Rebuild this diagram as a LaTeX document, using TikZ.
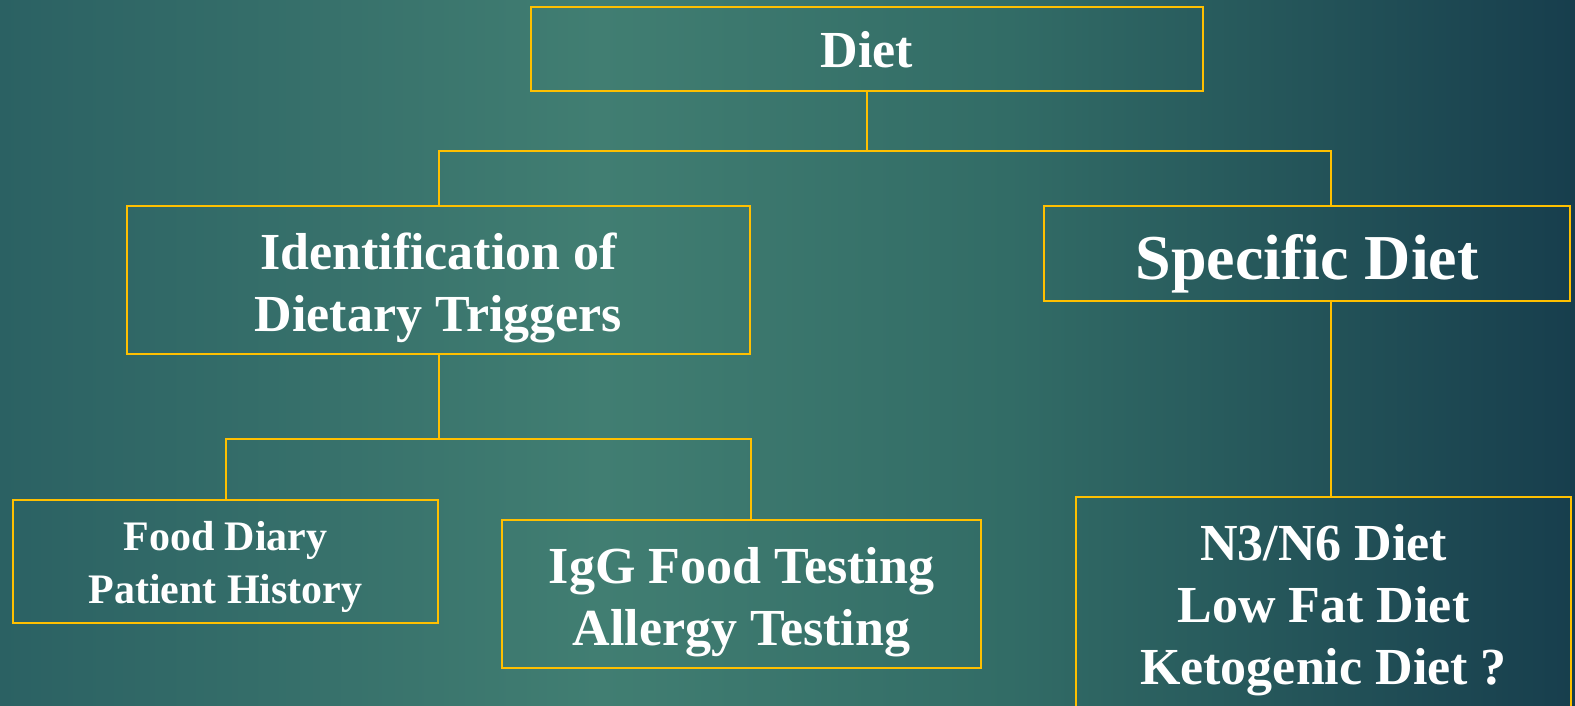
\documentclass[tikz,border=0pt]{standalone}
\usepackage{fontspec}
\setmainfont{Liberation Serif}
\usepackage{xcolor}
\usepackage{tikz}
\definecolor{gold}{HTML}{FFC000}
\definecolor{bgA}{HTML}{2B6163}
\definecolor{bgB}{HTML}{417E72}
\definecolor{bgC}{HTML}{326C66}
\definecolor{bgD}{HTML}{173E4D}
\pgfdeclarehorizontalshading{slidebg}{100bp}{color(0bp)=(bgA); color(25bp)=(bgA); color(44bp)=(bgB); color(57bp)=(bgC); color(75bp)=(bgD); color(100bp)=(bgD)}

\begin{document}
\begin{tikzpicture}[x=0.5pt,y=-0.5pt,-,line width=1pt]
	\tikzstyle{box}=[draw=gold, text=white, align=center, inner sep=0pt, font=\fontsize{26pt}{31pt}\selectfont\bfseries]
	\tikzstyle{link}=[draw=gold, line width=1pt]
		\useasboundingbox (0,0) rectangle (1575,706);
		\shade[shading=slidebg] (0,0) rectangle (1575,706);

		\node[box, minimum width=336pt, minimum height=42pt, text height=19pt, text depth=0pt] (diet) at (867,49) {Diet};
		\node[box, minimum width=311.5pt, minimum height=74pt, text height=51pt, text depth=0pt] (ident) at (438.5,280) {Identification of\\Dietary Triggers};
		\node[box, minimum width=263pt, minimum height=47.5pt, text height=25.5pt, text depth=0pt, font=\fontsize{32pt}{38pt}\selectfont\bfseries] (spec) at (1307,253.5) {Specific Diet};
		\node[box, minimum width=212.5pt, minimum height=61.5pt, text height=41.5pt, text depth=0pt, font=\fontsize{21pt}{26.5pt}\selectfont\bfseries] (food) at (225.5,561.5) {Food Diary\\Patient History};
		\node[box, minimum width=239.5pt, minimum height=74pt, text height=51pt, text depth=0pt] (igg) at (741.5,594) {IgG Food Testing\\Allergy Testing};
		\node[box, minimum width=247.5pt, minimum height=131.5pt, text height=55.5pt, text depth=0pt] (nsix) at (1323.5,628.5) {N3/N6 Diet\\Low Fat Diet\\Ketogenic Diet ?};

		\coordinate (jtop) at (867,151);
		\coordinate (jmid) at (438.5,439);
		\coordinate (spx) at (1331,0);

		\draw[link] (diet.south) -- (jtop);
		\draw[link] (ident.north) |- (jtop) -| (spec.north -| spx);
		\draw[link] (ident.south) -- (jmid);
		\draw[link] (food.north) |- (jmid) -| (igg.north -| ident.east);
		\draw[link] (spec.south -| spx) -- (nsix.north -| spx);
\end{tikzpicture}
\end{document}
